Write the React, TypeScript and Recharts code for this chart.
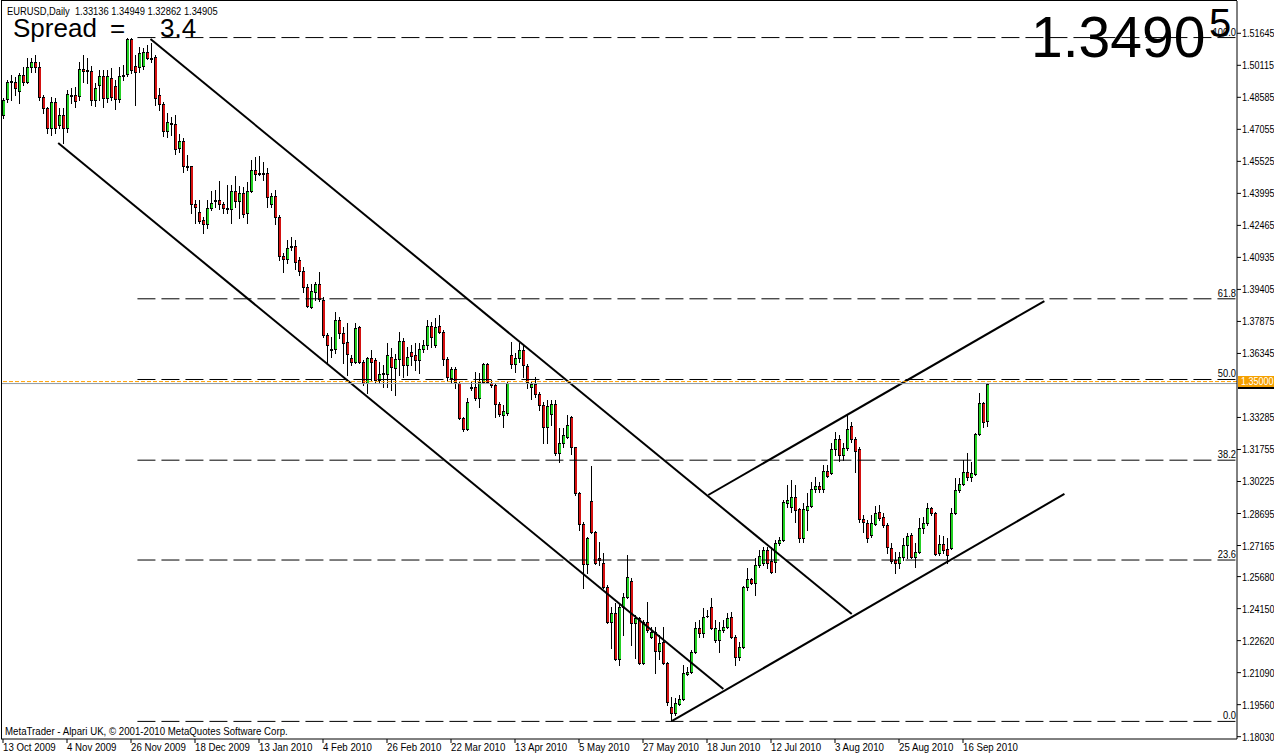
import React from "react";
import { ComposedChart, Bar, XAxis, YAxis, ReferenceLine } from "recharts";

// EURUSD daily, 13 Oct 2009 .. 24 Sep 2010 (bar index = trading day)
const opens = [
  1.4774, 1.4851, 1.4931, 1.4931, 1.4889, 1.4965, 1.4931, 1.5004, 1.5027, 1.5004,
  1.4861, 1.4808, 1.4712, 1.4836, 1.4726, 1.4774, 1.4712, 1.487, 1.487, 1.4865,
  1.4994, 1.4989, 1.4984, 1.4846, 1.4917, 1.496, 1.4856, 1.4951, 1.4912, 1.4851,
  1.496, 1.497, 1.5137, 1.5008, 1.5004, 1.5008, 1.5075, 1.5047, 1.5052, 1.487,
  1.4827, 1.4697, 1.4736, 1.4731, 1.4617, 1.465, 1.453, 1.453, 1.4349, 1.431,
  1.4272, 1.4253, 1.433, 1.4368, 1.4368, 1.4349, 1.433, 1.4325, 1.4411, 1.4363,
  1.4402, 1.4306, 1.4411, 1.4511, 1.4497, 1.4497, 1.4497, 1.4349, 1.4387, 1.4287,
  1.41, 1.4086, 1.4148, 1.4148, 1.4081, 1.4028, 1.3953, 1.3857, 1.3928, 1.3967,
  1.389, 1.3723, 1.3656, 1.3656, 1.3794, 1.3733, 1.3689, 1.3613, 1.3593, 1.3761,
  1.3593, 1.3494, 1.3613, 1.3603, 1.3508, 1.3541, 1.3536, 1.3618, 1.3565, 1.3608,
  1.3694, 1.3579, 1.3641, 1.3627, 1.3603, 1.3656, 1.3675, 1.3765, 1.3675, 1.3765,
  1.3737, 1.3608, 1.3517, 1.356, 1.3494, 1.3326, 1.3273, 1.3475, 1.3475, 1.3422,
  1.3498, 1.3584, 1.3494, 1.3484, 1.3393, 1.334, 1.335, 1.3627, 1.3584, 1.3613,
  1.3651, 1.3574, 1.3475, 1.3489, 1.3441, 1.3388, 1.3283, 1.3345, 1.3393, 1.3159,
  1.3207, 1.3235, 1.3331, 1.3187, 1.2968, 1.282, 1.2628, 1.2929, 1.2781, 1.2657,
  1.2633, 1.2519, 1.2351, 1.2394, 1.2174, 1.2423, 1.2471, 1.2547, 1.2346, 1.237,
  1.2155, 1.2351, 1.2279, 1.2303, 1.2212, 1.2256, 1.2155, 1.1944, 1.1916, 1.1959,
  1.1983, 1.2103, 1.2112, 1.2208, 1.2323, 1.2298, 1.238, 1.2423, 1.2265, 1.2265,
  1.2313, 1.2327, 1.2375, 1.2279, 1.2184, 1.2231, 1.2519, 1.2557, 1.2538, 1.2624,
  1.2633, 1.2695, 1.2643, 1.2638, 1.2729, 1.2743, 1.292, 1.29, 1.2948, 1.2891,
  1.2753, 1.2886, 1.2905, 1.2987, 1.3001, 1.2987, 1.3073, 1.3063, 1.3178, 1.3226,
  1.3149, 1.3183, 1.3288, 1.3226, 1.3178, 1.2843, 1.2824, 1.2767, 1.282, 1.2876,
  1.2853, 1.2815, 1.2705, 1.2647, 1.2633, 1.2662, 1.2719, 1.2767, 1.2662, 1.2686,
  1.28, 1.2824, 1.2896, 1.2872, 1.2681, 1.2724, 1.27, 1.2705, 1.2872, 1.2982,
  1.3011, 1.3068, 1.3044, 1.3058, 1.325, 1.3398, 1.33136,
];

const highs = [
  1.4856, 1.4941, 1.4965, 1.4956, 1.4975, 1.5004, 1.5047, 1.5047, 1.5061, 1.5027,
  1.487, 1.4813, 1.4861, 1.4856, 1.4808, 1.4808, 1.4894, 1.4903, 1.4908, 1.5027,
  1.5061, 1.5047, 1.5008, 1.4927, 1.4989, 1.4989, 1.4989, 1.4999, 1.4941, 1.5004,
  1.5013, 1.5142, 1.5142, 1.5061, 1.5099, 1.5094, 1.5108, 1.5118, 1.5061, 1.4903,
  1.4836, 1.4784, 1.4765, 1.4774, 1.4683, 1.4664, 1.4583, 1.453, 1.4368, 1.4368,
  1.4287, 1.4368, 1.4411, 1.4416, 1.4458, 1.4358, 1.4439, 1.4439, 1.4482, 1.4434,
  1.443, 1.4453, 1.4559, 1.4574, 1.4578, 1.4549, 1.4521, 1.4402, 1.4416, 1.4296,
  1.4115, 1.4177, 1.4191, 1.4177, 1.4096, 1.4048, 1.3967, 1.3967, 1.3976, 1.4023,
  1.3905, 1.3733, 1.3714, 1.3832, 1.3809, 1.3761, 1.378, 1.3627, 1.378, 1.3765,
  1.3603, 1.3618, 1.3651, 1.3613, 1.3593, 1.3579, 1.3685, 1.3661, 1.3632, 1.3737,
  1.3709, 1.3666, 1.3675, 1.3685, 1.3685, 1.3699, 1.3794, 1.3784, 1.3804, 1.3818,
  1.3747, 1.3618, 1.357, 1.357, 1.3498, 1.3331, 1.3422, 1.3498, 1.3545, 1.3541,
  1.3589, 1.3589, 1.3508, 1.3494, 1.3402, 1.3388, 1.3498, 1.3689, 1.3637, 1.3685,
  1.3675, 1.3584, 1.3498, 1.3522, 1.345, 1.3402, 1.3412, 1.3412, 1.3412, 1.3278,
  1.3278, 1.334, 1.3335, 1.3187, 1.2972, 1.2829, 1.2757, 1.3096, 1.2786, 1.2733,
  1.2681, 1.2528, 1.2423, 1.2442, 1.2442, 1.249, 1.2671, 1.2562, 1.2385, 1.2375,
  1.2361, 1.2446, 1.2327, 1.2327, 1.2289, 1.2327, 1.216, 1.1992, 1.1987, 1.2002,
  1.2145, 1.2136, 1.2217, 1.2351, 1.2361, 1.2418, 1.2408, 1.2466, 1.2361, 1.2351,
  1.2361, 1.2394, 1.2399, 1.2289, 1.2255, 1.2523, 1.261, 1.2562, 1.2657, 1.2695,
  1.271, 1.271, 1.271, 1.2743, 1.2757, 1.2934, 1.3006, 1.303, 1.3006, 1.2896,
  1.292, 1.2968, 1.302, 1.3044, 1.302, 1.3101, 1.3101, 1.3207, 1.3259, 1.3245,
  1.3207, 1.334, 1.3307, 1.3235, 1.3187, 1.2862, 1.2838, 1.2862, 1.2905, 1.291,
  1.2872, 1.2824, 1.2729, 1.2686, 1.2686, 1.2753, 1.2776, 1.2776, 1.2729, 1.2848,
  1.2853, 1.292, 1.29, 1.2876, 1.2767, 1.2762, 1.2753, 1.2896, 1.3039, 1.3039,
  1.3125, 1.3159, 1.3115, 1.3254, 1.3446, 1.3402, 1.34949,
];

const lows = [
  1.476, 1.4836, 1.4846, 1.487, 1.4832, 1.4917, 1.4927, 1.4979, 1.4979, 1.4846,
  1.4784, 1.4688, 1.4678, 1.4688, 1.4712, 1.4641, 1.4692, 1.4832, 1.4813, 1.4846,
  1.4931, 1.4927, 1.4822, 1.4817, 1.4846, 1.4813, 1.4836, 1.4846, 1.4803, 1.4836,
  1.4941, 1.496, 1.4975, 1.4822, 1.4979, 1.4994, 1.5042, 1.5027, 1.4822, 1.4798,
  1.4673, 1.4669, 1.4678, 1.4588, 1.4597, 1.4501, 1.4511, 1.4306, 1.4258, 1.4258,
  1.421, 1.4234, 1.432, 1.4335, 1.4325, 1.4306, 1.4306, 1.4258, 1.4335, 1.4282,
  1.4287, 1.4258, 1.4406, 1.4463, 1.4487, 1.4463, 1.4335, 1.4335, 1.4253, 1.4081,
  1.4023, 1.4067, 1.4129, 1.4038, 1.4009, 1.3928, 1.3857, 1.3852, 1.389, 1.3885,
  1.3714, 1.3589, 1.3618, 1.3637, 1.3709, 1.3589, 1.3531, 1.3579, 1.3589, 1.3589,
  1.3484, 1.3446, 1.3508, 1.3494, 1.3494, 1.3475, 1.3475, 1.346, 1.3436, 1.3531,
  1.3522, 1.3531, 1.3579, 1.3555, 1.3541, 1.3641, 1.3656, 1.3666, 1.3666, 1.3733,
  1.3579, 1.3503, 1.3494, 1.347, 1.3321, 1.3264, 1.3269, 1.346, 1.3412, 1.3379,
  1.3494, 1.3494, 1.3475, 1.3331, 1.3335, 1.3283, 1.334, 1.3565, 1.3546, 1.3593,
  1.3522, 1.347, 1.3417, 1.3427, 1.3364, 1.3207, 1.3207, 1.3292, 1.3149, 1.3115,
  1.3187, 1.323, 1.3154, 1.2958, 1.2791, 1.2514, 1.2585, 1.2776, 1.2628, 1.2623,
  1.2514, 1.2346, 1.2227, 1.2169, 1.2145, 1.2289, 1.2466, 1.2241, 1.2179, 1.215,
  1.215, 1.2303, 1.2274, 1.2107, 1.2174, 1.215, 1.1954, 1.1878, 1.1906, 1.1954,
  1.1978, 1.2098, 1.2108, 1.2203, 1.2279, 1.2279, 1.2375, 1.2318, 1.2255, 1.2208,
  1.2303, 1.2323, 1.2274, 1.2145, 1.2169, 1.2227, 1.2504, 1.2533, 1.248, 1.2614,
  1.2624, 1.2609, 1.2585, 1.259, 1.2719, 1.2738, 1.29, 1.2876, 1.2829, 1.2733,
  1.2733, 1.2791, 1.29, 1.2972, 1.2972, 1.2972, 1.3044, 1.3058, 1.3149, 1.312,
  1.3125, 1.3173, 1.3211, 1.3068, 1.2829, 1.2781, 1.2733, 1.2757, 1.2815, 1.2838,
  1.2805, 1.2681, 1.2633, 1.2585, 1.2609, 1.2647, 1.2657, 1.2657, 1.2614, 1.2681,
  1.2776, 1.2815, 1.2862, 1.2671, 1.2671, 1.2681, 1.2633, 1.27, 1.2867, 1.2972,
  1.3006, 1.303, 1.3025, 1.3054, 1.3245, 1.3283, 1.32862,
];

const closes = [
  1.4846, 1.4931, 1.4936, 1.4903, 1.4965, 1.4931, 1.5004, 1.5027, 1.5004, 1.4861,
  1.4808, 1.4712, 1.4836, 1.4712, 1.4774, 1.4712, 1.4875, 1.4865, 1.4841, 1.4994,
  1.4984, 1.4984, 1.4846, 1.4903, 1.496, 1.4856, 1.496, 1.4861, 1.4851, 1.496,
  1.4965, 1.5137, 1.4989, 1.4979, 1.5071, 1.5075, 1.5047, 1.5042, 1.4856, 1.4827,
  1.4697, 1.474, 1.4731, 1.4612, 1.465, 1.453, 1.4526, 1.4349, 1.4335, 1.4267,
  1.4253, 1.433, 1.4354, 1.4363, 1.4349, 1.433, 1.4325, 1.4411, 1.4363, 1.4402,
  1.4301, 1.4411, 1.4511, 1.4492, 1.4492, 1.4492, 1.4383, 1.4387, 1.4287, 1.41,
  1.4086, 1.4139, 1.4144, 1.4071, 1.4028, 1.3953, 1.3862, 1.3933, 1.3967, 1.3894,
  1.3723, 1.3675, 1.3651, 1.3794, 1.3733, 1.3685, 1.3632, 1.3593, 1.3756, 1.3593,
  1.3494, 1.3613, 1.3593, 1.3508, 1.3536, 1.3536, 1.3627, 1.357, 1.3608, 1.3694,
  1.3579, 1.3618, 1.3622, 1.3603, 1.3656, 1.3675, 1.3765, 1.3714, 1.3761, 1.3737,
  1.3608, 1.3522, 1.356, 1.3498, 1.3326, 1.3273, 1.3402, 1.347, 1.3422, 1.3498,
  1.3584, 1.3498, 1.3484, 1.3393, 1.3343, 1.3359, 1.3494, 1.3584, 1.3613, 1.3651,
  1.3579, 1.3498, 1.3489, 1.3441, 1.3388, 1.3283, 1.3383, 1.3393, 1.3159, 1.3207,
  1.3245, 1.3292, 1.3187, 1.2968, 1.282, 1.2628, 1.2753, 1.2781, 1.2633, 1.2647,
  1.2519, 1.2351, 1.2394, 1.2174, 1.2423, 1.2471, 1.2566, 1.2346, 1.237, 1.2155,
  1.2351, 1.2313, 1.2303, 1.2212, 1.2251, 1.2155, 1.1968, 1.1916, 1.1964, 1.1983,
  1.2108, 1.2112, 1.2208, 1.2323, 1.2298, 1.2375, 1.2378, 1.2323, 1.2323, 1.2313,
  1.2327, 1.237, 1.2279, 1.2184, 1.2231, 1.2519, 1.2557, 1.2538, 1.2624, 1.2666,
  1.2695, 1.2633, 1.259, 1.2729, 1.2743, 1.2924, 1.2934, 1.2948, 1.2886, 1.2753,
  1.2891, 1.2905, 1.2987, 1.3001, 1.2987, 1.3073, 1.3049, 1.3178, 1.3226, 1.3149,
  1.3183, 1.3273, 1.3226, 1.3168, 1.2843, 1.2829, 1.2753, 1.2824, 1.2872, 1.2848,
  1.2815, 1.271, 1.2643, 1.2633, 1.2662, 1.2719, 1.2762, 1.2662, 1.2686, 1.28,
  1.2824, 1.2896, 1.2872, 1.2676, 1.2724, 1.2695, 1.2671, 1.2872, 1.2982, 1.3011,
  1.3068, 1.3044, 1.3063, 1.325, 1.3398, 1.3307, 1.34905,
];

const xTickLabels = [
  "13 Oct 2009", "4 Nov 2009", "26 Nov 2009", "18 Dec 2009", "13 Jan 2010", "4 Feb 2010",
  "26 Feb 2010", "22 Mar 2010", "13 Apr 2010", "5 May 2010", "27 May 2010", "18 Jun 2010",
  "12 Jul 2010", "3 Aug 2010", "25 Aug 2010", "16 Sep 2010",
];
const xTickStep = 16;

const yTicks = [
  1.1803, 1.1956, 1.2109, 1.2262, 1.2415, 1.2568, 1.27165, 1.28695, 1.30225, 1.31755,
  1.33285, 1.36345, 1.37875, 1.39405, 1.40935, 1.42465, 1.43995, 1.45525, 1.47055,
  1.48585, 1.50115, 1.51645,
];

// fibonacci retracement from the Nov 2009 high to the Jun 2010 low
const fibHigh = 1.5144;
const fibLow = 1.1876;
const fibLevels = [100, 61.8, 50, 38.2, 23.6, 0];
const fibStart = 34;

// trend channels, [barIndex, price]
const trendLines = [
  [[37.25, 1.5137], [212, 1.2389]],
  [[14.25, 1.464], [180, 1.2031]],
  [[167.25, 1.1878], [265, 1.2963]],
  [[176.25, 1.2958], [260, 1.3885]],
];

const alertPrice = 1.35;
const bidPrice = 1.34905;

const SLOTS = 309;
const Y_MIN = 1.17919;
const Y_MAX = 1.53188;
const FONT = "'Liberation Sans', Arial, sans-serif";
const UP = "#22d022";
const DOWN = "#d41010";

const data = Array.from({ length: SLOTS }, (_, i) =>
  i < opens.length
    ? { i, open: opens[i], high: highs[i], low: lows[i], close: closes[i], range: [lows[i], highs[i]] }
    : { i }
);

// small narrow text (MetaTrader style)
const SmallText = ({ x, y, sx = 0.85, anchor = "start", fill = "#000", children }: any) => (
  <text
    transform={`translate(${x} ${y}) scale(${sx} 1)`}
    x={0}
    y={0}
    textAnchor={anchor}
    fontSize={11}
    fontFamily={FONT}
    fill={fill}
    style={{ whiteSpace: "pre" }}
  >
    {children}
  </text>
);

const Candle = (props: any) => {
  const { x, y, width, height, payload } = props;
  if (!payload || payload.open == null) return null;
  const { open, high, low, close } = payload;
  const top = Math.min(y, y + height);
  const h = Math.abs(height);
  const k = high > low ? h / (high - low) : 0;
  const py = (v: number) => top + (high - v) * k;
  const c = Math.round(x + width / 2);
  const yH = Math.round(py(high));
  const yL = Math.round(py(low));
  const yT = Math.round(py(Math.max(open, close)));
  const yB = Math.round(py(Math.min(open, close)));
  const bodyH = Math.max(1, yB - yT + 1);
  return (
    <g>
      <rect x={c - 1} y={yH} width={1} height={Math.max(1, yL - yH + 1)} fill="#000" />
      <rect x={c - 2} y={yT} width={3} height={bodyH} fill="#000" />
      {bodyH > 2 && (
        <rect x={c - 1} y={yT + 1} width={2} height={bodyH - 2} fill={close >= open ? UP : DOWN} />
      )}
    </g>
  );
};

const XTick = (props: any) => {
  const { x, y, payload } = props;
  const label = xTickLabels[Math.round(payload.value / xTickStep)];
  return (
    <SmallText x={x} y={y + 8} sx={0.88}>
      {label}
    </SmallText>
  );
};

const YTick = (props: any) => {
  const { x, y, payload } = props;
  return (
    <SmallText x={x} y={y + 4} sx={0.82}>
      {Number(payload.value).toFixed(5)}
    </SmallText>
  );
};

const FibLabel = (props: any) => {
  const vb = props.viewBox || {};
  return (
    <SmallText x={vb.x + vb.width - 3} y={vb.y - 2} anchor="end">
      {props.text}
    </SmallText>
  );
};

export default function App() {
  const xTicks = xTickLabels.map((_, k) => k * xTickStep);
  return (
    <div style={{ position: "absolute", left: 0, top: 0, width: 1274, height: 756, background: "#fff" }}>
      <ComposedChart width={1274} height={756} data={data} margin={{ top: 1, right: 0, bottom: 0, left: 1 }}>
        <XAxis
          dataKey="i"
          type="category"
          ticks={xTicks}
          interval={0}
          height={17}
          tickSize={4}
          tickMargin={0}
          axisLine={{ stroke: "#000" }}
          tickLine={{ stroke: "#000" }}
          tick={<XTick />}
        />
        <XAxis xAxisId="n" type="number" domain={[-0.5, SLOTS - 0.5]} allowDataOverflow hide />
        <YAxis
          orientation="right"
          width={37}
          domain={[Y_MIN, Y_MAX]}
          allowDataOverflow
          ticks={yTicks}
          interval={0}
          tickSize={4}
          tickMargin={1}
          axisLine={{ stroke: "#000" }}
          tickLine={{ stroke: "#000" }}
          tick={<YTick />}
        />
        {fibLevels.map((lv) => (
          <ReferenceLine
            key={"f" + lv}
            xAxisId="n"
            segment={[
              { x: fibStart, y: fibLow + ((fibHigh - fibLow) * lv) / 100 },
              { x: SLOTS - 0.5, y: fibLow + ((fibHigh - fibLow) * lv) / 100 },
            ]}
            stroke="#000"
            strokeWidth={1}
            strokeDasharray="18 6"
            ifOverflow="visible"
            label={<FibLabel text={lv.toFixed(1)} />}
          />
        ))}
        {trendLines.map((seg, k) => (
          <ReferenceLine
            key={"t" + k}
            xAxisId="n"
            segment={[
              { x: seg[0][0], y: seg[0][1] },
              { x: seg[1][0], y: seg[1][1] },
            ]}
            stroke="#000"
            strokeWidth={2}
            ifOverflow="visible"
          />
        ))}
        <ReferenceLine y={bidPrice} stroke="#8d9aa6" strokeWidth={1} />
        <ReferenceLine y={alertPrice} stroke="#ffa000" strokeWidth={1} strokeDasharray="4 2" />
        <Bar dataKey="range" barSize={3} shape={<Candle />} isAnimationActive={false} />
      </ComposedChart>
      <svg
        width={1274}
        height={756}
        style={{ position: "absolute", left: 0, top: 0, pointerEvents: "none" }}
      >
        <rect x={1} y={0} width={1} height={739} fill="#000" />
        <rect x={1} y={0} width={1236} height={1} fill="#000" />
        <SmallText x={7} y={15}>
          {"EURUSD,Daily  1.33136 1.34949 1.32862 1.34905"}
        </SmallText>
        <text x={13} y={37} fontSize={26} fontFamily={FONT} fill="#000">Spread</text>
        <text x={110} y={37} fontSize={26} fontFamily={FONT} fill="#000">=</text>
        <text x={160} y={37} fontSize={26} fontFamily={FONT} fill="#000">3.4</text>
        <text x={1031} y={57} fontSize={57} fontFamily={FONT} fill="#000">1.3490</text>
        <text x={1209} y={37} fontSize={40} fontFamily={FONT} fill="#000">5</text>
        <SmallText x={5} y={735} sx={0.88}>
          MetaTrader - Alpari UK, © 2001-2010 MetaQuotes Software Corp.
        </SmallText>
        <rect x={1238} y={376} width={36} height={11} fill="#f5a000" />
        <rect x={1238} y={387} width={36} height={2} fill="#000" />
        <SmallText x={1241} y={385} sx={0.82} fill="#fff">1.35000</SmallText>
      </svg>
    </div>
  );
}
